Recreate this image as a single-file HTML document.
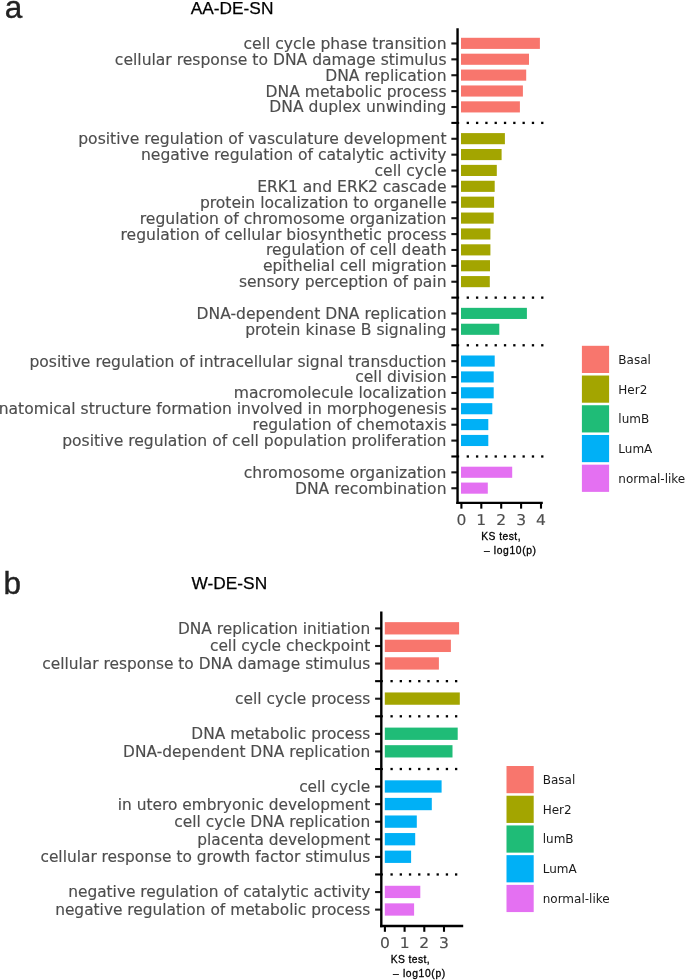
<!DOCTYPE html>
<html lang="en"><head><meta charset="utf-8"><title>Figure</title>
<style>
html,body{margin:0;padding:0;background:#fff;}
body{width:685px;height:980px;overflow:hidden;}
svg{display:block;}
.lab{font-family:"DejaVu Sans","Liberation Sans",sans-serif;font-size:15.57px;fill:#4D4D4D;stroke:#4D4D4D;stroke-width:0.15px;}
.lb{font-size:15.4px;}
.tk{text-rendering:geometricPrecision;}
.leg{font-family:"DejaVu Sans","Liberation Sans",sans-serif;font-size:12px;fill:#1a1a1a;}
.ttl{font-family:"Liberation Sans",Arial,Helvetica,sans-serif;font-size:17.3px;fill:#000;stroke:#000;stroke-width:0.25px;}
.pan{font-family:"Liberation Sans",Arial,Helvetica,sans-serif;font-size:31.5px;fill:#222;stroke:#222;stroke-width:0.4px;}
.axt{font-family:"Liberation Sans",Arial,Helvetica,sans-serif;font-size:10.3px;fill:#000;stroke:#000;stroke-width:0.3px;}
</style></head>
<body>
<svg width="685" height="980" viewBox="0 0 685 980">
<rect x="0" y="0" width="685" height="980" fill="#fff"/>
<text x="4.7" y="17.8" class="pan">a</text>
<text x="3.4" y="593.6" class="pan">b</text>
<text x="190.8" y="13.9" class="ttl">AA-DE-SN</text>
<text x="191.6" y="588.8" class="ttl">W-DE-SN</text>
<text x="481.3" y="539.6" class="axt" textLength="39.2" lengthAdjust="spacing">KS test,</text>
<text x="484.0" y="553.7" class="axt" textLength="52" lengthAdjust="spacing">– log10(p)</text>
<text x="390.7" y="963.0" class="axt" textLength="38.9" lengthAdjust="spacing">KS test,</text>
<text x="393.0" y="977.0" class="axt" textLength="52.2" lengthAdjust="spacing">– log10(p)</text>
<rect x="461.00" y="37.79" width="78.90" height="11.12" fill="#F8766D"/>
<line x1="451.35" y1="43.47" x2="457.55" y2="43.47" stroke="#1a1a1a" stroke-width="2.1"/>
<text x="446.50" y="48.90" text-anchor="end" class="lab la">cell cycle phase transition</text>
<rect x="461.00" y="53.68" width="68.00" height="11.12" fill="#F8766D"/>
<line x1="451.35" y1="59.35" x2="457.55" y2="59.35" stroke="#1a1a1a" stroke-width="2.1"/>
<text x="446.50" y="64.78" text-anchor="end" class="lab la">cellular response to DNA damage stimulus</text>
<rect x="461.00" y="69.56" width="65.20" height="11.12" fill="#F8766D"/>
<line x1="451.35" y1="75.24" x2="457.55" y2="75.24" stroke="#1a1a1a" stroke-width="2.1"/>
<text x="446.50" y="80.67" text-anchor="end" class="lab la">DNA replication</text>
<rect x="461.00" y="85.45" width="61.90" height="11.12" fill="#F8766D"/>
<line x1="451.35" y1="91.13" x2="457.55" y2="91.13" stroke="#1a1a1a" stroke-width="2.1"/>
<text x="446.50" y="96.56" text-anchor="end" class="lab la">DNA metabolic process</text>
<rect x="461.00" y="101.33" width="58.90" height="11.12" fill="#F8766D"/>
<line x1="451.35" y1="107.01" x2="457.55" y2="107.01" stroke="#1a1a1a" stroke-width="2.1"/>
<text x="446.50" y="112.44" text-anchor="end" class="lab la">DNA duplex unwinding</text>
<line x1="451.35" y1="122.90" x2="459.15" y2="122.90" stroke="#000" stroke-width="2.1"/>
<rect x="466.65" y="121.75" width="2.3" height="2.3" fill="#000"/>
<rect x="475.96" y="121.75" width="2.3" height="2.3" fill="#000"/>
<rect x="485.27" y="121.75" width="2.3" height="2.3" fill="#000"/>
<rect x="494.58" y="121.75" width="2.3" height="2.3" fill="#000"/>
<rect x="503.89" y="121.75" width="2.3" height="2.3" fill="#000"/>
<rect x="513.20" y="121.75" width="2.3" height="2.3" fill="#000"/>
<rect x="522.51" y="121.75" width="2.3" height="2.3" fill="#000"/>
<rect x="531.82" y="121.75" width="2.3" height="2.3" fill="#000"/>
<rect x="541.13" y="121.75" width="2.3" height="2.3" fill="#000"/>
<rect x="461.00" y="133.10" width="43.90" height="11.12" fill="#A3A500"/>
<line x1="451.35" y1="138.78" x2="457.55" y2="138.78" stroke="#1a1a1a" stroke-width="2.1"/>
<text x="446.50" y="144.21" text-anchor="end" class="lab la">positive regulation of vasculature development</text>
<rect x="461.00" y="148.99" width="40.60" height="11.12" fill="#A3A500"/>
<line x1="451.35" y1="154.67" x2="457.55" y2="154.67" stroke="#1a1a1a" stroke-width="2.1"/>
<text x="446.50" y="160.10" text-anchor="end" class="lab la">negative regulation of catalytic activity</text>
<rect x="461.00" y="164.87" width="35.80" height="11.12" fill="#A3A500"/>
<line x1="451.35" y1="170.55" x2="457.55" y2="170.55" stroke="#1a1a1a" stroke-width="2.1"/>
<text x="446.50" y="175.98" text-anchor="end" class="lab la">cell cycle</text>
<rect x="461.00" y="180.76" width="33.70" height="11.12" fill="#A3A500"/>
<line x1="451.35" y1="186.44" x2="457.55" y2="186.44" stroke="#1a1a1a" stroke-width="2.1"/>
<text x="446.50" y="191.87" text-anchor="end" class="lab la">ERK1 and ERK2 cascade</text>
<rect x="461.00" y="196.64" width="33.10" height="11.12" fill="#A3A500"/>
<line x1="451.35" y1="202.32" x2="457.55" y2="202.32" stroke="#1a1a1a" stroke-width="2.1"/>
<text x="446.50" y="207.75" text-anchor="end" class="lab la">protein localization to organelle</text>
<rect x="461.00" y="212.53" width="32.70" height="11.12" fill="#A3A500"/>
<line x1="451.35" y1="218.20" x2="457.55" y2="218.20" stroke="#1a1a1a" stroke-width="2.1"/>
<text x="446.50" y="223.63" text-anchor="end" class="lab la">regulation of chromosome organization</text>
<rect x="461.00" y="228.41" width="29.40" height="11.12" fill="#A3A500"/>
<line x1="451.35" y1="234.09" x2="457.55" y2="234.09" stroke="#1a1a1a" stroke-width="2.1"/>
<text x="446.50" y="239.52" text-anchor="end" class="lab la">regulation of cellular biosynthetic process</text>
<rect x="461.00" y="244.30" width="29.40" height="11.12" fill="#A3A500"/>
<line x1="451.35" y1="249.97" x2="457.55" y2="249.97" stroke="#1a1a1a" stroke-width="2.1"/>
<text x="446.50" y="255.40" text-anchor="end" class="lab la">regulation of cell death</text>
<rect x="461.00" y="260.18" width="29.00" height="11.12" fill="#A3A500"/>
<line x1="451.35" y1="265.86" x2="457.55" y2="265.86" stroke="#1a1a1a" stroke-width="2.1"/>
<text x="446.50" y="271.29" text-anchor="end" class="lab la">epithelial cell migration</text>
<rect x="461.00" y="276.07" width="28.80" height="11.12" fill="#A3A500"/>
<line x1="451.35" y1="281.74" x2="457.55" y2="281.74" stroke="#1a1a1a" stroke-width="2.1"/>
<text x="446.50" y="287.17" text-anchor="end" class="lab la">sensory perception of pain</text>
<line x1="451.35" y1="297.63" x2="459.15" y2="297.63" stroke="#000" stroke-width="2.1"/>
<rect x="466.65" y="296.48" width="2.3" height="2.3" fill="#000"/>
<rect x="475.96" y="296.48" width="2.3" height="2.3" fill="#000"/>
<rect x="485.27" y="296.48" width="2.3" height="2.3" fill="#000"/>
<rect x="494.58" y="296.48" width="2.3" height="2.3" fill="#000"/>
<rect x="503.89" y="296.48" width="2.3" height="2.3" fill="#000"/>
<rect x="513.20" y="296.48" width="2.3" height="2.3" fill="#000"/>
<rect x="522.51" y="296.48" width="2.3" height="2.3" fill="#000"/>
<rect x="531.82" y="296.48" width="2.3" height="2.3" fill="#000"/>
<rect x="541.13" y="296.48" width="2.3" height="2.3" fill="#000"/>
<rect x="461.00" y="307.84" width="65.90" height="11.12" fill="#1FBC77"/>
<line x1="451.35" y1="313.51" x2="457.55" y2="313.51" stroke="#1a1a1a" stroke-width="2.1"/>
<text x="446.50" y="318.94" text-anchor="end" class="lab la">DNA-dependent DNA replication</text>
<rect x="461.00" y="323.72" width="38.30" height="11.12" fill="#1FBC77"/>
<line x1="451.35" y1="329.40" x2="457.55" y2="329.40" stroke="#1a1a1a" stroke-width="2.1"/>
<text x="446.50" y="334.83" text-anchor="end" class="lab la">protein kinase B signaling</text>
<line x1="451.35" y1="345.28" x2="459.15" y2="345.28" stroke="#000" stroke-width="2.1"/>
<rect x="466.65" y="344.13" width="2.3" height="2.3" fill="#000"/>
<rect x="475.96" y="344.13" width="2.3" height="2.3" fill="#000"/>
<rect x="485.27" y="344.13" width="2.3" height="2.3" fill="#000"/>
<rect x="494.58" y="344.13" width="2.3" height="2.3" fill="#000"/>
<rect x="503.89" y="344.13" width="2.3" height="2.3" fill="#000"/>
<rect x="513.20" y="344.13" width="2.3" height="2.3" fill="#000"/>
<rect x="522.51" y="344.13" width="2.3" height="2.3" fill="#000"/>
<rect x="531.82" y="344.13" width="2.3" height="2.3" fill="#000"/>
<rect x="541.13" y="344.13" width="2.3" height="2.3" fill="#000"/>
<rect x="461.00" y="355.49" width="33.70" height="11.12" fill="#00B0F6"/>
<line x1="451.35" y1="361.17" x2="457.55" y2="361.17" stroke="#1a1a1a" stroke-width="2.1"/>
<text x="446.50" y="366.60" text-anchor="end" class="lab la">positive regulation of intracellular signal transduction</text>
<rect x="461.00" y="371.38" width="32.70" height="11.12" fill="#00B0F6"/>
<line x1="451.35" y1="377.05" x2="457.55" y2="377.05" stroke="#1a1a1a" stroke-width="2.1"/>
<text x="446.50" y="382.48" text-anchor="end" class="lab la">cell division</text>
<rect x="461.00" y="387.26" width="32.70" height="11.12" fill="#00B0F6"/>
<line x1="451.35" y1="392.94" x2="457.55" y2="392.94" stroke="#1a1a1a" stroke-width="2.1"/>
<text x="446.50" y="398.37" text-anchor="end" class="lab la">macromolecule localization</text>
<rect x="461.00" y="403.15" width="31.30" height="11.12" fill="#00B0F6"/>
<line x1="451.35" y1="408.82" x2="457.55" y2="408.82" stroke="#1a1a1a" stroke-width="2.1"/>
<text x="446.50" y="414.25" text-anchor="end" class="lab la">anatomical structure formation involved in morphogenesis</text>
<rect x="461.00" y="419.03" width="27.30" height="11.12" fill="#00B0F6"/>
<line x1="451.35" y1="424.71" x2="457.55" y2="424.71" stroke="#1a1a1a" stroke-width="2.1"/>
<text x="446.50" y="430.14" text-anchor="end" class="lab la">regulation of chemotaxis</text>
<rect x="461.00" y="434.92" width="27.30" height="11.12" fill="#00B0F6"/>
<line x1="451.35" y1="440.59" x2="457.55" y2="440.59" stroke="#1a1a1a" stroke-width="2.1"/>
<text x="446.50" y="446.02" text-anchor="end" class="lab la">positive regulation of cell population proliferation</text>
<line x1="451.35" y1="456.48" x2="459.15" y2="456.48" stroke="#000" stroke-width="2.1"/>
<rect x="466.65" y="455.33" width="2.3" height="2.3" fill="#000"/>
<rect x="475.96" y="455.33" width="2.3" height="2.3" fill="#000"/>
<rect x="485.27" y="455.33" width="2.3" height="2.3" fill="#000"/>
<rect x="494.58" y="455.33" width="2.3" height="2.3" fill="#000"/>
<rect x="503.89" y="455.33" width="2.3" height="2.3" fill="#000"/>
<rect x="513.20" y="455.33" width="2.3" height="2.3" fill="#000"/>
<rect x="522.51" y="455.33" width="2.3" height="2.3" fill="#000"/>
<rect x="531.82" y="455.33" width="2.3" height="2.3" fill="#000"/>
<rect x="541.13" y="455.33" width="2.3" height="2.3" fill="#000"/>
<rect x="461.00" y="466.69" width="51.20" height="11.12" fill="#E470F2"/>
<line x1="451.35" y1="472.36" x2="457.55" y2="472.36" stroke="#1a1a1a" stroke-width="2.1"/>
<text x="446.50" y="477.79" text-anchor="end" class="lab la">chromosome organization</text>
<rect x="461.00" y="482.57" width="26.80" height="11.12" fill="#E470F2"/>
<line x1="451.35" y1="488.25" x2="457.55" y2="488.25" stroke="#1a1a1a" stroke-width="2.1"/>
<text x="446.50" y="493.68" text-anchor="end" class="lab la">DNA recombination</text>
<line x1="457.55" y1="28.20" x2="457.55" y2="504.05" stroke="#000" stroke-width="2.4"/>
<line x1="456.35" y1="502.85" x2="542.80" y2="502.85" stroke="#000" stroke-width="2.4"/>
<line x1="461.40" y1="502.85" x2="461.40" y2="508.65" stroke="#000" stroke-width="2.1"/>
<text transform="translate(461.40,525.35) scale(1,0.955)" text-anchor="middle" class="lab tk">0</text>
<line x1="481.30" y1="502.85" x2="481.30" y2="508.65" stroke="#000" stroke-width="2.1"/>
<text transform="translate(481.30,525.35) scale(1,0.955)" text-anchor="middle" class="lab tk">1</text>
<line x1="501.20" y1="502.85" x2="501.20" y2="508.65" stroke="#000" stroke-width="2.1"/>
<text transform="translate(501.20,525.35) scale(1,0.955)" text-anchor="middle" class="lab tk">2</text>
<line x1="521.10" y1="502.85" x2="521.10" y2="508.65" stroke="#000" stroke-width="2.1"/>
<text transform="translate(521.10,525.35) scale(1,0.955)" text-anchor="middle" class="lab tk">3</text>
<line x1="541.00" y1="502.85" x2="541.00" y2="508.65" stroke="#000" stroke-width="2.1"/>
<text transform="translate(541.00,525.35) scale(1,0.955)" text-anchor="middle" class="lab tk">4</text>
<rect x="384.80" y="622.15" width="74.30" height="12.30" fill="#F8766D"/>
<line x1="375.10" y1="628.42" x2="381.30" y2="628.42" stroke="#1a1a1a" stroke-width="2.1"/>
<text x="370.30" y="633.85" text-anchor="end" class="lab lb">DNA replication initiation</text>
<rect x="384.80" y="639.72" width="66.10" height="12.30" fill="#F8766D"/>
<line x1="375.10" y1="646.00" x2="381.30" y2="646.00" stroke="#1a1a1a" stroke-width="2.1"/>
<text x="370.30" y="651.42" text-anchor="end" class="lab lb">cell cycle checkpoint</text>
<rect x="384.80" y="657.30" width="54.10" height="12.30" fill="#F8766D"/>
<line x1="375.10" y1="663.57" x2="381.30" y2="663.57" stroke="#1a1a1a" stroke-width="2.1"/>
<text x="370.30" y="669.00" text-anchor="end" class="lab lb">cellular response to DNA damage stimulus</text>
<line x1="375.10" y1="681.15" x2="382.90" y2="681.15" stroke="#000" stroke-width="2.1"/>
<rect x="390.45" y="680.00" width="2.3" height="2.3" fill="#000"/>
<rect x="399.67" y="680.00" width="2.3" height="2.3" fill="#000"/>
<rect x="408.89" y="680.00" width="2.3" height="2.3" fill="#000"/>
<rect x="418.11" y="680.00" width="2.3" height="2.3" fill="#000"/>
<rect x="427.33" y="680.00" width="2.3" height="2.3" fill="#000"/>
<rect x="436.55" y="680.00" width="2.3" height="2.3" fill="#000"/>
<rect x="445.77" y="680.00" width="2.3" height="2.3" fill="#000"/>
<rect x="454.99" y="680.00" width="2.3" height="2.3" fill="#000"/>
<rect x="384.80" y="692.45" width="75.00" height="12.30" fill="#A3A500"/>
<line x1="375.10" y1="698.72" x2="381.30" y2="698.72" stroke="#1a1a1a" stroke-width="2.1"/>
<text x="370.30" y="704.15" text-anchor="end" class="lab lb">cell cycle process</text>
<line x1="375.10" y1="716.30" x2="382.90" y2="716.30" stroke="#000" stroke-width="2.1"/>
<rect x="390.45" y="715.15" width="2.3" height="2.3" fill="#000"/>
<rect x="399.67" y="715.15" width="2.3" height="2.3" fill="#000"/>
<rect x="408.89" y="715.15" width="2.3" height="2.3" fill="#000"/>
<rect x="418.11" y="715.15" width="2.3" height="2.3" fill="#000"/>
<rect x="427.33" y="715.15" width="2.3" height="2.3" fill="#000"/>
<rect x="436.55" y="715.15" width="2.3" height="2.3" fill="#000"/>
<rect x="445.77" y="715.15" width="2.3" height="2.3" fill="#000"/>
<rect x="454.99" y="715.15" width="2.3" height="2.3" fill="#000"/>
<rect x="384.80" y="727.60" width="72.90" height="12.30" fill="#1FBC77"/>
<line x1="375.10" y1="733.87" x2="381.30" y2="733.87" stroke="#1a1a1a" stroke-width="2.1"/>
<text x="370.30" y="739.30" text-anchor="end" class="lab lb">DNA metabolic process</text>
<rect x="384.80" y="745.17" width="67.70" height="12.30" fill="#1FBC77"/>
<line x1="375.10" y1="751.45" x2="381.30" y2="751.45" stroke="#1a1a1a" stroke-width="2.1"/>
<text x="370.30" y="756.88" text-anchor="end" class="lab lb">DNA-dependent DNA replication</text>
<line x1="375.10" y1="769.02" x2="382.90" y2="769.02" stroke="#000" stroke-width="2.1"/>
<rect x="390.45" y="767.87" width="2.3" height="2.3" fill="#000"/>
<rect x="399.67" y="767.87" width="2.3" height="2.3" fill="#000"/>
<rect x="408.89" y="767.87" width="2.3" height="2.3" fill="#000"/>
<rect x="418.11" y="767.87" width="2.3" height="2.3" fill="#000"/>
<rect x="427.33" y="767.87" width="2.3" height="2.3" fill="#000"/>
<rect x="436.55" y="767.87" width="2.3" height="2.3" fill="#000"/>
<rect x="445.77" y="767.87" width="2.3" height="2.3" fill="#000"/>
<rect x="454.99" y="767.87" width="2.3" height="2.3" fill="#000"/>
<rect x="384.80" y="780.32" width="56.80" height="12.30" fill="#00B0F6"/>
<line x1="375.10" y1="786.60" x2="381.30" y2="786.60" stroke="#1a1a1a" stroke-width="2.1"/>
<text x="370.30" y="792.03" text-anchor="end" class="lab lb">cell cycle</text>
<rect x="384.80" y="797.90" width="47.00" height="12.30" fill="#00B0F6"/>
<line x1="375.10" y1="804.17" x2="381.30" y2="804.17" stroke="#1a1a1a" stroke-width="2.1"/>
<text x="370.30" y="809.60" text-anchor="end" class="lab lb">in utero embryonic development</text>
<rect x="384.80" y="815.47" width="32.00" height="12.30" fill="#00B0F6"/>
<line x1="375.10" y1="821.75" x2="381.30" y2="821.75" stroke="#1a1a1a" stroke-width="2.1"/>
<text x="370.30" y="827.18" text-anchor="end" class="lab lb">cell cycle DNA replication</text>
<rect x="384.80" y="833.05" width="30.40" height="12.30" fill="#00B0F6"/>
<line x1="375.10" y1="839.32" x2="381.30" y2="839.32" stroke="#1a1a1a" stroke-width="2.1"/>
<text x="370.30" y="844.75" text-anchor="end" class="lab lb">placenta development</text>
<rect x="384.80" y="850.62" width="26.30" height="12.30" fill="#00B0F6"/>
<line x1="375.10" y1="856.90" x2="381.30" y2="856.90" stroke="#1a1a1a" stroke-width="2.1"/>
<text x="370.30" y="862.33" text-anchor="end" class="lab lb">cellular response to growth factor stimulus</text>
<line x1="375.10" y1="874.47" x2="382.90" y2="874.47" stroke="#000" stroke-width="2.1"/>
<rect x="390.45" y="873.32" width="2.3" height="2.3" fill="#000"/>
<rect x="399.67" y="873.32" width="2.3" height="2.3" fill="#000"/>
<rect x="408.89" y="873.32" width="2.3" height="2.3" fill="#000"/>
<rect x="418.11" y="873.32" width="2.3" height="2.3" fill="#000"/>
<rect x="427.33" y="873.32" width="2.3" height="2.3" fill="#000"/>
<rect x="436.55" y="873.32" width="2.3" height="2.3" fill="#000"/>
<rect x="445.77" y="873.32" width="2.3" height="2.3" fill="#000"/>
<rect x="454.99" y="873.32" width="2.3" height="2.3" fill="#000"/>
<rect x="384.80" y="885.77" width="35.50" height="12.30" fill="#E470F2"/>
<line x1="375.10" y1="892.05" x2="381.30" y2="892.05" stroke="#1a1a1a" stroke-width="2.1"/>
<text x="370.30" y="897.48" text-anchor="end" class="lab lb">negative regulation of catalytic activity</text>
<rect x="384.80" y="903.35" width="29.30" height="12.30" fill="#E470F2"/>
<line x1="375.10" y1="909.62" x2="381.30" y2="909.62" stroke="#1a1a1a" stroke-width="2.1"/>
<text x="370.30" y="915.05" text-anchor="end" class="lab lb">negative regulation of metabolic process</text>
<line x1="381.30" y1="611.60" x2="381.30" y2="927.20" stroke="#000" stroke-width="2.4"/>
<line x1="380.10" y1="926.00" x2="463.20" y2="926.00" stroke="#000" stroke-width="2.4"/>
<line x1="384.90" y1="926.00" x2="384.90" y2="931.80" stroke="#000" stroke-width="2.1"/>
<text transform="translate(384.90,947.85) scale(1,0.955)" text-anchor="middle" class="lab tk">0</text>
<line x1="404.60" y1="926.00" x2="404.60" y2="931.80" stroke="#000" stroke-width="2.1"/>
<text transform="translate(404.60,947.85) scale(1,0.955)" text-anchor="middle" class="lab tk">1</text>
<line x1="424.30" y1="926.00" x2="424.30" y2="931.80" stroke="#000" stroke-width="2.1"/>
<text transform="translate(424.30,947.85) scale(1,0.955)" text-anchor="middle" class="lab tk">2</text>
<line x1="444.00" y1="926.00" x2="444.00" y2="931.80" stroke="#000" stroke-width="2.1"/>
<text transform="translate(444.00,947.85) scale(1,0.955)" text-anchor="middle" class="lab tk">3</text>
<rect x="581.90" y="345.80" width="27.2" height="27.2" fill="#F8766D"/>
<text x="618.30" y="363.80" class="leg">Basal</text>
<rect x="581.90" y="375.52" width="27.2" height="27.2" fill="#A3A500"/>
<text x="618.30" y="393.52" class="leg">Her2</text>
<rect x="581.90" y="405.24" width="27.2" height="27.2" fill="#1FBC77"/>
<text x="618.30" y="423.24" class="leg">lumB</text>
<rect x="581.90" y="434.96" width="27.2" height="27.2" fill="#00B0F6"/>
<text x="618.30" y="452.96" class="leg">LumA</text>
<rect x="581.90" y="464.68" width="27.2" height="27.2" fill="#E470F2"/>
<text x="618.30" y="482.68" class="leg">normal-like</text>
<rect x="506.50" y="766.00" width="27.2" height="27.2" fill="#F8766D"/>
<text x="542.70" y="784.00" class="leg">Basal</text>
<rect x="506.50" y="795.72" width="27.2" height="27.2" fill="#A3A500"/>
<text x="542.70" y="813.72" class="leg">Her2</text>
<rect x="506.50" y="825.44" width="27.2" height="27.2" fill="#1FBC77"/>
<text x="542.70" y="843.44" class="leg">lumB</text>
<rect x="506.50" y="855.16" width="27.2" height="27.2" fill="#00B0F6"/>
<text x="542.70" y="873.16" class="leg">LumA</text>
<rect x="506.50" y="884.88" width="27.2" height="27.2" fill="#E470F2"/>
<text x="542.70" y="902.88" class="leg">normal-like</text>
</svg>
</body></html>
